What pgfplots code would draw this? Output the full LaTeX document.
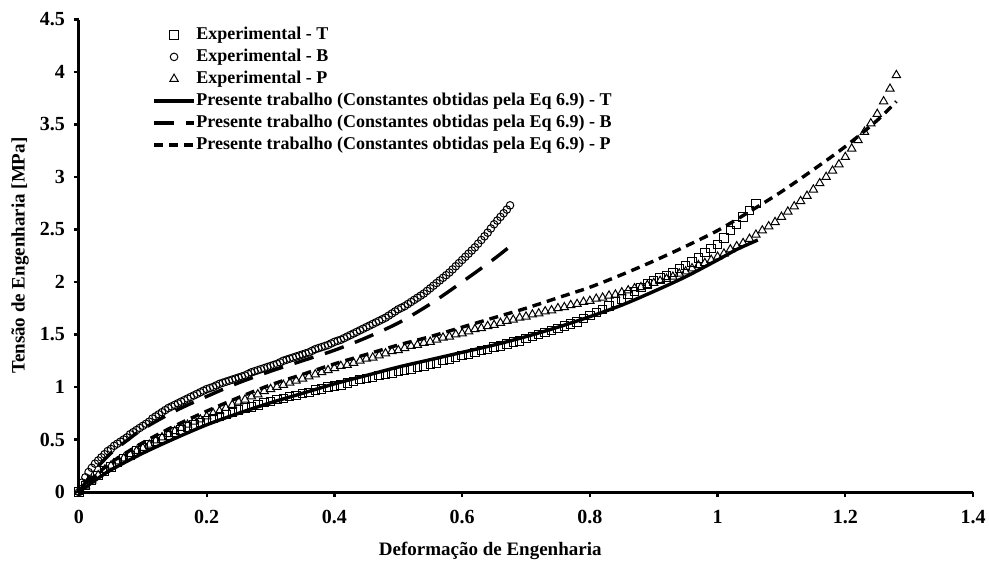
\documentclass[border=0pt]{standalone}
\usepackage{pgfplots}
\pgfplotsset{compat=1.18}
\usepackage{fontspec}
\setmainfont{Liberation Serif}
\begin{document}
\begin{tikzpicture}
\begin{axis}[
  scale only axis,
  width=447pt, height=236.25pt,
  xmin=0, xmax=1.4, ymin=0, ymax=4.5,
  axis x line*=bottom, axis y line*=left,
  axis line style={-, line width=1.5pt, black},
  xtick={0,0.2,0.4,0.6,0.8,1,1.2,1.4},
  ytick={0,0.5,1,1.5,2,2.5,3,3.5,4,4.5},
  tick align=outside,
  major tick length=2.5pt,
  tick style={line width=1.2pt, black},
  /pgf/number format/assume math mode=true,
  ticklabel style={font=\bfseries\fontsize{10}{11}\selectfont},
  xticklabel style={yshift=-3pt},
  yticklabel style={xshift=-1pt},
  xlabel={Deformação de Engenharia},
  ylabel={Tensão de Engenharia [MPa]},
  label style={font=\bfseries\fontsize{9.5}{11}\selectfont},
  xlabel style={at={(axis description cs:0.46,-0.125)}, anchor=center},
  ylabel style={at={(axis description cs:-0.066,0.5)}, anchor=center},
  clip=false,
  legend cell align=left,
  legend style={draw=none, fill=none, at={(rel axis cs:0.075,1.0)}, anchor=north west,
    font=\bfseries\fontsize{9}{10.5}\selectfont,
    nodes={inner sep=0.4pt, text height=7.6pt, text depth=2.6pt},
    /tikz/every even column/.append style={column sep=3pt}},
  mlegend/.style={legend image code/.code={\draw[##1] plot coordinates {(0.35cm,0cm)};}},
  llegend/.style={legend image code/.code={\draw[##1] (0cm,0cm) -- (0.7cm,0cm);}},
]
\coordinate (O) at (rel axis cs:0,0);
% Experimental - T
\addplot[only marks, black, mark=square, mark size=2.1pt, mark options={line width=0.5pt, fill=none, solid}, mlegend]
table {
0 0
0.01 0.06
0.02 0.11
0.03 0.16
0.04 0.20
0.05 0.24
0.06 0.28
0.07 0.32
0.08 0.35
0.09 0.39
0.10 0.42
0.11 0.45
0.12 0.48
0.13 0.51
0.14 0.54
0.15 0.57
0.16 0.59
0.17 0.62
0.18 0.64
0.19 0.66
0.20 0.68
0.21 0.70
0.22 0.72
0.23 0.74
0.24 0.76
0.25 0.78
0.26 0.80
0.27 0.81
0.28 0.83
0.29 0.85
0.30 0.86
0.31 0.88
0.32 0.89
0.33 0.91
0.34 0.92
0.35 0.94
0.36 0.95
0.37 0.97
0.38 0.98
0.39 1.00
0.40 1.01
0.41 1.02
0.42 1.04
0.43 1.05
0.44 1.07
0.45 1.08
0.46 1.09
0.47 1.11
0.48 1.12
0.49 1.13
0.50 1.15
0.51 1.16
0.52 1.17
0.53 1.19
0.54 1.20
0.55 1.22
0.56 1.23
0.57 1.25
0.58 1.26
0.59 1.28
0.60 1.30
0.61 1.31
0.62 1.33
0.63 1.35
0.64 1.36
0.65 1.38
0.66 1.39
0.67 1.41
0.68 1.43
0.69 1.44
0.70 1.46
0.71 1.48
0.72 1.50
0.73 1.52
0.74 1.54
0.75 1.56
0.76 1.58
0.77 1.60
0.78 1.62
0.79 1.65
0.80 1.68
0.81 1.71
0.82 1.74
0.83 1.77
0.84 1.81
0.85 1.84
0.86 1.88
0.87 1.91
0.88 1.95
0.89 1.98
0.90 2.01
0.91 2.04
0.92 2.06
0.93 2.09
0.94 2.13
0.95 2.16
0.96 2.19
0.97 2.23
0.98 2.28
0.99 2.32
1.00 2.36
1.01 2.42
1.02 2.49
1.03 2.55
1.04 2.62
1.05 2.68
1.06 2.75
};
\addlegendentry{Experimental - T}
% Experimental - B
\addplot[only marks, black, mark=o, mark size=1.9pt, mark options={line width=0.5pt, fill=none, solid}, mlegend]
table {
0 0
0.005 0.09
0.01 0.14
0.015 0.19
0.02 0.23
0.025 0.27
0.03 0.30
0.035 0.33
0.04 0.36
0.045 0.39
0.05 0.41
0.055 0.44
0.06 0.46
0.065 0.48
0.07 0.50
0.075 0.52
0.08 0.55
0.085 0.57
0.09 0.59
0.095 0.61
0.10 0.63
0.105 0.65
0.11 0.67
0.115 0.70
0.12 0.72
0.125 0.74
0.13 0.76
0.135 0.78
0.14 0.80
0.145 0.815
0.15 0.83
0.155 0.845
0.16 0.86
0.165 0.875
0.17 0.89
0.175 0.905
0.18 0.92
0.185 0.935
0.19 0.95
0.195 0.965
0.20 0.98
0.205 0.99
0.21 1.00
0.215 1.015
0.22 1.03
0.225 1.04
0.23 1.05
0.235 1.06
0.24 1.07
0.245 1.08
0.25 1.09
0.255 1.10
0.26 1.11
0.265 1.125
0.27 1.14
0.275 1.15
0.28 1.16
0.285 1.17
0.29 1.18
0.295 1.19
0.30 1.20
0.305 1.21
0.31 1.22
0.315 1.235
0.32 1.25
0.325 1.26
0.33 1.27
0.335 1.28
0.34 1.29
0.345 1.30
0.35 1.31
0.355 1.32
0.36 1.33
0.365 1.345
0.37 1.36
0.375 1.37
0.38 1.38
0.385 1.39
0.39 1.40
0.395 1.415
0.40 1.43
0.405 1.44
0.41 1.45
0.415 1.465
0.42 1.48
0.425 1.495
0.43 1.51
0.435 1.525
0.44 1.54
0.445 1.555
0.45 1.57
0.455 1.585
0.46 1.60
0.465 1.615
0.47 1.63
0.475 1.645
0.48 1.66
0.485 1.68
0.49 1.70
0.495 1.72
0.50 1.74
0.505 1.755
0.51 1.77
0.515 1.79
0.52 1.81
0.525 1.83
0.53 1.85
0.535 1.87
0.54 1.89
0.545 1.915
0.55 1.94
0.555 1.965
0.56 1.99
0.565 2.015
0.57 2.04
0.575 2.065
0.58 2.09
0.585 2.12
0.59 2.15
0.595 2.18
0.60 2.21
0.605 2.24
0.61 2.27
0.615 2.30
0.62 2.33
0.625 2.365
0.63 2.40
0.635 2.435
0.64 2.47
0.645 2.51
0.65 2.55
0.655 2.585
0.66 2.62
0.665 2.655
0.67 2.69
0.675 2.73
};
\addlegendentry{Experimental - B}
% Experimental - P
\addplot[only marks, black, mark=triangle, mark size=2.4pt, mark options={line width=0.5pt, fill=none, solid}, mlegend]
table {
0.00 0
0.01 0.06
0.02 0.11
0.03 0.16
0.04 0.21
0.05 0.25
0.06 0.29
0.07 0.32
0.08 0.36
0.09 0.39
0.10 0.42
0.11 0.45
0.12 0.49
0.13 0.52
0.14 0.55
0.15 0.58
0.16 0.61
0.17 0.64
0.18 0.67
0.19 0.69
0.20 0.72
0.21 0.75
0.22 0.77
0.23 0.80
0.24 0.83
0.25 0.86
0.26 0.88
0.27 0.91
0.28 0.93
0.29 0.96
0.30 0.98
0.31 1.00
0.32 1.02
0.33 1.04
0.34 1.06
0.35 1.08
0.36 1.10
0.37 1.12
0.38 1.14
0.39 1.16
0.40 1.18
0.41 1.20
0.42 1.21
0.43 1.23
0.44 1.25
0.45 1.27
0.46 1.28
0.47 1.30
0.48 1.32
0.49 1.34
0.50 1.35
0.51 1.37
0.52 1.39
0.53 1.40
0.54 1.42
0.55 1.43
0.56 1.45
0.57 1.47
0.58 1.48
0.59 1.50
0.60 1.51
0.61 1.53
0.62 1.55
0.63 1.56
0.64 1.58
0.65 1.59
0.66 1.61
0.67 1.63
0.68 1.64
0.69 1.66
0.70 1.67
0.71 1.69
0.72 1.70
0.73 1.72
0.74 1.73
0.75 1.75
0.76 1.76
0.77 1.78
0.78 1.79
0.79 1.81
0.80 1.82
0.81 1.84
0.82 1.85
0.83 1.87
0.84 1.88
0.85 1.90
0.86 1.92
0.87 1.94
0.88 1.95
0.89 1.97
0.90 1.99
0.91 2.01
0.92 2.03
0.93 2.05
0.94 2.08
0.95 2.10
0.96 2.13
0.97 2.16
0.98 2.18
0.99 2.21
1.00 2.24
1.01 2.27
1.02 2.31
1.03 2.34
1.04 2.37
1.05 2.41
1.06 2.45
1.07 2.49
1.08 2.53
1.09 2.57
1.10 2.62
1.11 2.67
1.12 2.72
1.13 2.77
1.14 2.82
1.15 2.88
1.16 2.94
1.17 3.00
1.18 3.06
1.19 3.12
1.20 3.19
1.21 3.27
1.22 3.35
1.23 3.43
1.24 3.51
1.25 3.60
1.26 3.72
1.27 3.84
1.28 3.97
};
\addlegendentry{Experimental - P}
% Model T
\addplot[black, solid, line width=1.7pt, smooth, llegend] table {
0 0
0.025 0.11
0.05 0.21
0.1 0.37
0.15 0.51
0.2 0.64
0.25 0.75
0.3 0.85
0.35 0.94
0.4 1.03
0.45 1.11
0.5 1.19
0.55 1.26
0.6 1.33
0.65 1.40
0.7 1.48
0.75 1.57
0.8 1.67
0.85 1.78
0.9 1.91
0.95 2.05
1.0 2.21
1.03 2.31
1.063 2.40
};
\addlegendentry{Presente trabalho (Constantes obtidas pela Eq 6.9) - T}
% Model B
\addplot[black, line width=1.7pt, dash pattern=on 10pt off 6pt, smooth, llegend] table {
0 0
0.01 0.09
0.025 0.21
0.05 0.37
0.075 0.49
0.1 0.60
0.15 0.77
0.2 0.91
0.25 1.04
0.3 1.15
0.35 1.25
0.4 1.35
0.45 1.47
0.5 1.61
0.55 1.79
0.6 2.00
0.65 2.22
0.675 2.34
};
\addlegendentry{Presente trabalho (Constantes obtidas pela Eq 6.9) - B}
% Model P
\addplot[black, line width=1.7pt, dash pattern=on 4.5pt off 3pt, smooth, llegend] table {
0 0
0.025 0.15
0.05 0.28
0.1 0.47
0.15 0.63
0.2 0.77
0.25 0.90
0.3 1.02
0.35 1.12
0.4 1.22
0.45 1.31
0.5 1.40
0.55 1.48
0.6 1.57
0.65 1.66
0.7 1.75
0.75 1.85
0.8 1.95
0.85 2.07
0.9 2.20
0.95 2.34
1.0 2.49
1.05 2.67
1.1 2.86
1.15 3.07
1.2 3.29
1.25 3.54
1.28 3.72
};
\addlegendentry{Presente trabalho (Constantes obtidas pela Eq 6.9) - P}
\end{axis}
\pgfresetboundingbox
\useasboundingbox (O) ++(-39.5pt,-35.5pt) rectangle ++(494.5pt,281.5pt);
\end{tikzpicture}
\end{document}
